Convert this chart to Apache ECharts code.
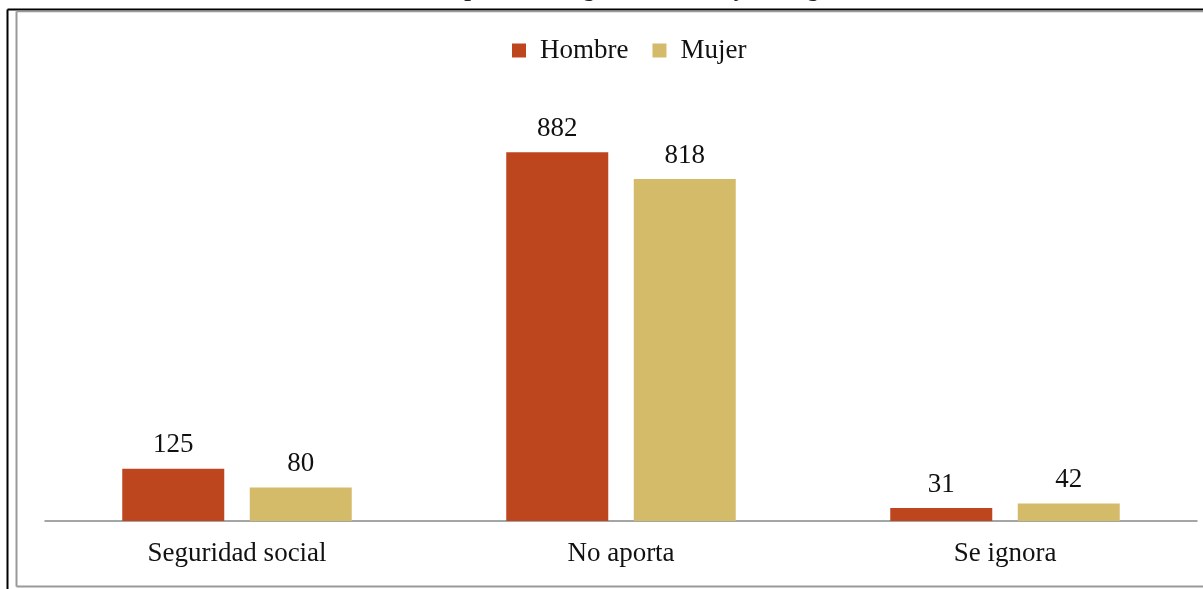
<!DOCTYPE html>
<html><head><meta charset="utf-8">
<script src="https://cdn.jsdelivr.net/npm/echarts@6/dist/echarts.min.js"></script>
<style>html,body{margin:0;padding:0;background:#fff}#c{width:1203px;height:589px}</style>
</head><body><div id="c"></div>
<script>
const titleText = 'Gráfica 5. Población ocupada con seguridad social y sin seguridad social, 2010';
const categories = ['Seguridad social', 'No aporta', 'Se ignora'];
const seriesNames = ['Hombre', 'Mujer'];
const hombre = [125, 882, 31];
const mujer = [80, 818, 42];
const colors = ['#BE461E', '#D4BB6A'];
const serif = '"Liberation Serif", "DejaVu Serif", serif';

const chart = echarts.init(document.getElementById('c'), null, {renderer: 'canvas'});
const mk = (name, data, color) => ({
  name, type: 'bar', data, barWidth: 102, barGap: '25%',
  itemStyle: {color},
  label: {show: true, position: 'top', distance: 10, color: '#111', fontFamily: serif, fontSize: 27}
});
chart.setOption({
  animation: false,
  title: {text: titleText, left: 607, textAlign: 'center', top: -27,
    textStyle: {fontFamily: serif, fontSize: 24, fontWeight: 'bold', color: '#222'}},
  graphic: [
    {type: 'line', shape: {x1: 7.5, y1: 9.5, x2: 1203, y2: 9.5}, style: {stroke: '#000', lineWidth: 2}},
    {type: 'line', shape: {x1: 7.5, y1: 9.5, x2: 7.5, y2: 589}, style: {stroke: '#000', lineWidth: 2}},
    {type: 'line', shape: {x1: 16.5, y1: 11.5, x2: 1203, y2: 11.5}, style: {stroke: '#999', lineWidth: 1.5}},
    {type: 'line', shape: {x1: 16.5, y1: 11.5, x2: 16.5, y2: 586.5}, style: {stroke: '#999', lineWidth: 2}},
    {type: 'line', shape: {x1: 16.5, y1: 586.5, x2: 1203, y2: 586.5}, style: {stroke: '#999', lineWidth: 2}}
  ],
  legend: {data: seriesNames, left: 507, top: 32, itemWidth: 14, itemHeight: 14, itemGap: 24,
    icon: 'rect', textStyle: {fontFamily: serif, fontSize: 27, color: '#111', padding: [0, 0, 0, 9]}},
  grid: {left: 45, right: 6, top: 103, bottom: 68},
  xAxis: {type: 'category', data: categories,
    axisLine: {lineStyle: {color: '#888', width: 1.5}}, axisTick: {show: false},
    axisLabel: {fontFamily: serif, fontSize: 27, color: '#111', margin: 19}},
  yAxis: {type: 'value', min: 0, max: 1000, show: false, splitLine: {show: false}},
  series: [mk(seriesNames[0], hombre, colors[0]), mk(seriesNames[1], mujer, colors[1])]
});
</script></body></html>
